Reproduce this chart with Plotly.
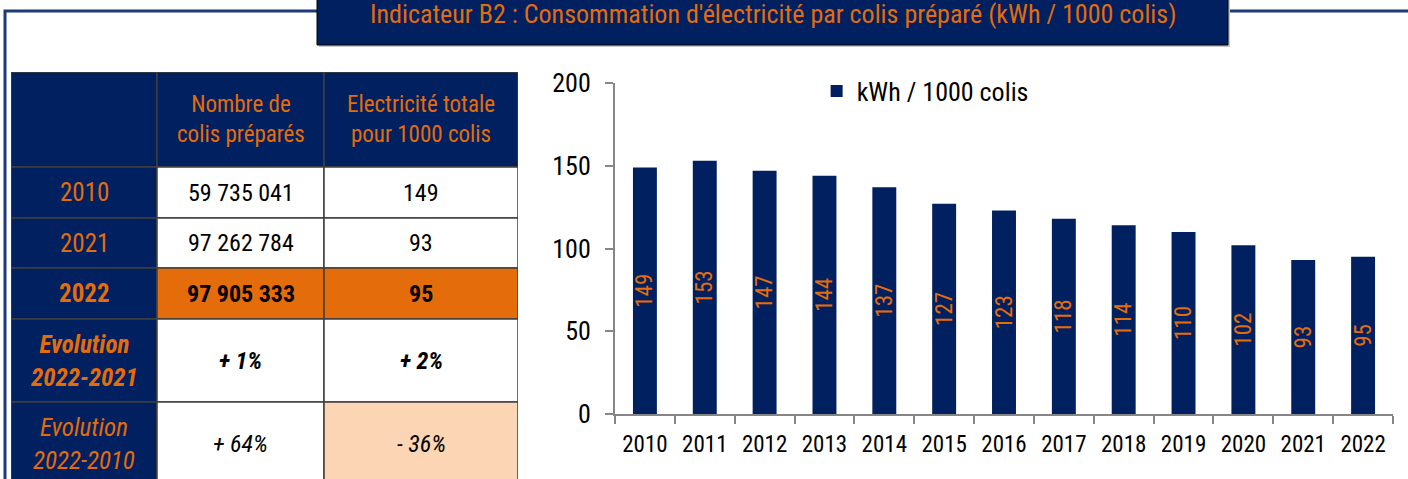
import plotly.graph_objects as go

W, H = 1408, 479
NAVY = '#002060'
ORANGE = '#E46C0A'
PEACH = '#FCD5B4'
GRID = '#3F3F3F'
AXIS = '#868686'
FONT = ('Noto Sans ExtraCondensed, Noto Sans Condensed, Roboto Condensed, '
        'Liberation Sans Narrow, DejaVu Sans Condensed, Noto Sans, sans-serif')

# chart data
years = ['2010', '2011', '2012', '2013', '2014', '2015', '2016',
         '2017', '2018', '2019', '2020', '2021', '2022']
kwh_per_1000 = [149, 153, 147, 144, 137, 127, 123, 118, 114, 110, 102, 93, 95]
y_ticks = [0, 50, 100, 150, 200]

# table data
table_header = ['', 'Nombre de<br>colis préparés', 'Electricité totale<br>pour 1000 colis']
row_labels = ['2010', '2021', '2022', 'Evolution<br>2022-2021', 'Evolution<br>2022-2010']
colis_prepares = ['59 735 041', '97 262 784', '97 905 333', '+ 1%', '+ 64%']
elec_1000 = ['149', '93', '95', '+ 2%', '- 36%']

# table styling (pixel sizes inside the table area)
col_widths = [146, 167, 194]
row_heights = [95, 51, 50, 51, 83, 83]
row_fmt = ['{}', '{}', '<b>{}</b>', '<b><i>{}</i></b>', '<i>{}</i>']
row_fill = [('white', 'white'), ('white', 'white'), (ORANGE, ORANGE),
            ('white', 'white'), ('white', PEACH)]

def px_x(v):
    return v / W

def px_y(v):
    return 1 - v / H

fig = go.Figure()

fig.add_trace(go.Bar(
    x=years, y=kwh_per_1000, name='kWh / 1000 colis',
    marker=dict(color=NAVY, line=dict(width=0)),
    text=[str(v) for v in kwh_per_1000], textposition='inside',
    insidetextanchor='middle', textangle=-90,
    textfont=dict(color=ORANGE, size=23, family=FONT),
    hoverinfo='skip'))

# empty trace so the table subplot exists
fig.add_trace(go.Scatter(x=[], y=[], xaxis='x2', yaxis='y2', showlegend=False,
                         hoverinfo='skip'))

shapes = []
annots = []

# outer frame and title box
shapes.append(dict(type='rect', xref='paper', yref='paper', x0=px_x(5), x1=px_x(1420),
                   y0=px_y(11), y1=px_y(500), line=dict(color='#1F3A78', width=3),
                   fillcolor='rgba(0,0,0,0)', layer='below'))
shapes.append(dict(type='rect', xref='paper', yref='paper', x0=px_x(319), x1=px_x(1230),
                   y0=px_y(-5), y1=px_y(47), line=dict(width=0), fillcolor='#C8C8C8'))
shapes.append(dict(type='rect', xref='paper', yref='paper', x0=px_x(317), x1=px_x(1228),
                   y0=px_y(-5), y1=px_y(45), line=dict(color='black', width=1), fillcolor=NAVY))
annots.append(dict(xref='paper', yref='paper', x=px_x(772.5), y=px_y(14),
                   text="Indicateur B2 : Consommation d'électricité par colis préparé (kWh / 1000 colis)",
                   showarrow=False, xanchor='center', yanchor='middle',
                   font=dict(color=ORANGE, size=26, family=FONT)))

# table cells
col_edges = [0]
for w in col_widths:
    col_edges.append(col_edges[-1] + w)
row_edges = [0]
for h in row_heights:
    row_edges.append(row_edges[-1] + h)

def cell(ci, ri, fill, text, color, size):
    shapes.append(dict(type='rect', xref='x2', yref='y2',
                       x0=col_edges[ci], x1=col_edges[ci + 1],
                       y0=row_edges[ri], y1=row_edges[ri + 1],
                       fillcolor=fill, line=dict(color=GRID, width=1.5), layer='below'))
    if text:
        annots.append(dict(xref='x2', yref='y2',
                           x=(col_edges[ci] + col_edges[ci + 1]) / 2,
                           y=(row_edges[ri] + row_edges[ri + 1]) / 2,
                           text=text, showarrow=False, xanchor='center', yanchor='middle',
                           font=dict(color=color, size=size, family=FONT)))

for ci, t in enumerate(table_header):
    cell(ci, 0, NAVY, t, ORANGE, 23)

for ri in range(len(row_labels)):
    fmt = row_fmt[ri]
    cell(0, ri + 1, NAVY, fmt.format(row_labels[ri]), ORANGE, 25)
    cell(1, ri + 1, row_fill[ri][0], fmt.format(colis_prepares[ri]), 'black', 24)
    cell(2, ri + 1, row_fill[ri][1], fmt.format(elec_1000[ri]), 'black', 24)

fig.update_layout(
    width=W, height=H,
    margin=dict(l=0, r=0, t=0, b=0, autoexpand=False),
    paper_bgcolor='white', plot_bgcolor='white',
    font=dict(family=FONT, color='black'),
    bargap=0.6,
    uniformtext=dict(minsize=23, mode='show'),
    showlegend=True,
    legend=dict(x=0.580, y=px_y(91), xanchor='left', yanchor='middle',
                font=dict(size=26, family=FONT, color='black'),
                bgcolor='rgba(0,0,0,0)'),
    xaxis=dict(domain=[px_x(615), px_x(1393)], type='category', automargin=False,
               showline=True, linecolor=AXIS, linewidth=2, tickangle=0,
               ticks='outside', tickson='boundaries', ticklen=8, tickcolor=AXIS, tickwidth=2,
               tickfont=dict(size=23), ticklabelstandoff=8, showgrid=False),
    yaxis=dict(domain=[px_y(414), px_y(83)], range=[0, 200], tickvals=y_ticks, automargin=False,
               showline=True, linecolor=AXIS, linewidth=2,
               ticks='outside', ticklen=8, tickcolor=AXIS, tickwidth=2,
               tickfont=dict(size=26), ticklabelstandoff=9, showgrid=False, zeroline=False),
    xaxis2=dict(domain=[px_x(11), px_x(518)], range=[0, sum(col_widths)], anchor='y2',
                visible=False, fixedrange=True, automargin=False),
    yaxis2=dict(domain=[0, px_y(72)], range=[H - 72, 0], anchor='x2',
                visible=False, fixedrange=True, automargin=False),
    shapes=shapes, annotations=annots,
)

# drop the default page margin so the figure sits at the window's corner
fig.write_html("out.html", config={'displayModeBar': False},
               post_script="document.body.style.margin='0';")
